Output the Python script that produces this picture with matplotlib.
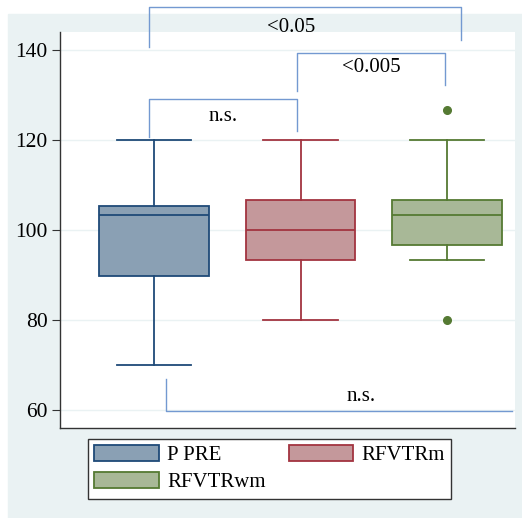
import matplotlib
matplotlib.use("Agg")
import matplotlib.pyplot as plt
from matplotlib.patches import Rectangle, Patch

plt.rcParams['font.family'] = ['Liberation Serif', 'DejaVu Serif']

groups = ['P PRE', 'RFVTRm', 'RFVTRwm']
q1 = [89.8, 93.4, 96.7]
med = [103.3, 100.0, 103.3]
q3 = [105.4, 106.7, 106.7]
whislo = [70.0, 80.0, 93.3]
whishi = [120.0, 120.0, 120.0]
fliers = [[], [], [80.0, 126.7]]

fills = ['#8aa0b4', '#c4989b', '#a8b897']
edges = ['#1f4a78', '#a23440', '#557a33']
bracket_col = '#7399d1'
bg = '#eaf2f3'

# comparisons: (x_left, x_right, top, left_leg_end, right_leg_end, label, text_x, text_y)
brackets = [
    (0.966, 3.096, 149.6, 140.7, 142.2, '<0.05', 1.935, 144.9),
    (0.966, 1.976, 129.1, 120.7, 122.0, 'n.s.', 1.47, 125.3),
    (1.976, 2.986, 139.3, 130.9, 132.2, '<0.005', 2.48, 136.0),
]

fig = plt.figure(figsize=(5.22, 5.18), dpi=100)
fig.patches.append(Rectangle((8 / 522, 0), 514 / 522, 504 / 518,
                             transform=fig.transFigure, color=bg, zorder=-5))
ax = fig.add_axes([60 / 522, 90 / 518, 455 / 522, 396 / 518])
ax.set_facecolor('white')

stats = []
for i in range(3):
    stats.append(dict(med=med[i], q1=q1[i], q3=q3[i], whislo=whislo[i],
                      whishi=whishi[i], fliers=fliers[i]))
bp = ax.bxp(stats, positions=[1, 2, 3], widths=0.75, capwidths=0.51,
            patch_artist=True, showfliers=True)
for i in range(3):
    bp['boxes'][i].set(facecolor=fills[i], edgecolor=edges[i], linewidth=1.3)
    bp['medians'][i].set(color=edges[i], linewidth=1.3)
    for j in (2 * i, 2 * i + 1):
        bp['whiskers'][j].set(color=edges[i], linewidth=1.3)
        bp['caps'][j].set(color=edges[i], linewidth=1.3)
    bp['fliers'][i].set(marker='o', markerfacecolor=edges[i],
                        markeredgecolor=edges[i], markersize=5.5)

for xl, xr, top, ll, rl, lab, tx, ty in brackets:
    ax.plot([xl, xl, xr, xr], [ll, top, top, rl], color=bracket_col,
            linewidth=1.0, clip_on=False, zorder=3)
    ax.text(tx, ty, lab, ha='center', va='center', fontsize=15)

# bottom comparison
ax.plot([1.082, 1.082, 3.444], [66.9, 59.8, 59.8], color=bracket_col,
        linewidth=1.0, clip_on=False, zorder=3)
ax.text(2.41, 62.9, 'n.s.', ha='center', va='center', fontsize=15)

ax.set_xlim(0.358, 3.464)
ax.set_ylim(56, 144)
ax.set_yticks([60, 80, 100, 120, 140])
ax.set_xticks([])
ax.yaxis.grid(True, color=bg, linewidth=1)
ax.set_axisbelow(True)
ax.tick_params(axis='y', labelsize=15.5, length=6, color='#333333', pad=3)
for s in ('top', 'right'):
    ax.spines[s].set_visible(False)
for s in ('left', 'bottom'):
    ax.spines[s].set_color('#333333')
    ax.spines[s].set_linewidth(1)

handles = [Patch(facecolor=fills[i], edgecolor=edges[i], linewidth=1.3,
                 label=groups[i]) for i in range(3)]
order = [0, 2, 1]
leg = fig.legend([handles[i] for i in order], [groups[i] for i in order],
                 ncol=2, loc='upper left', bbox_to_anchor=(88 / 522, 1 - 439 / 518),
                 borderaxespad=0, fontsize=15, frameon=True, fancybox=False,
                 edgecolor='#333333', framealpha=1, handlelength=3.1,
                 handleheight=0.75, columnspacing=1.1, borderpad=0.3,
                 labelspacing=0.35, handletextpad=0.4)
leg.get_frame().set_linewidth(1)
leg.get_frame().set_facecolor('white')

fig.savefig('out.png', dpi=100)
